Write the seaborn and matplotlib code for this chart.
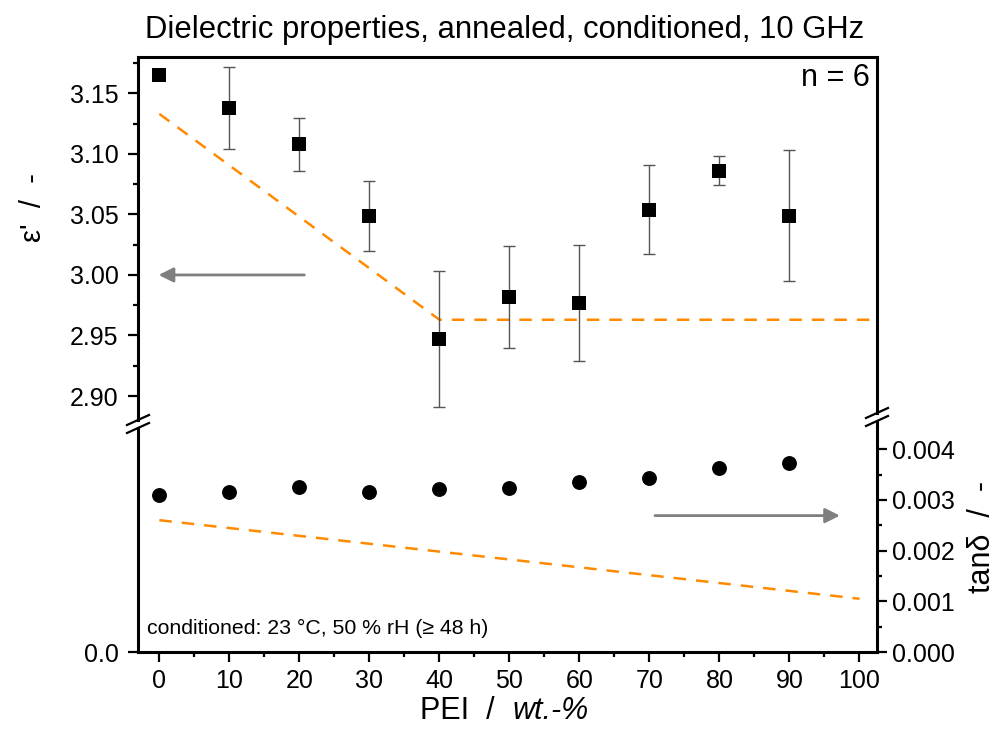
import numpy as np
import matplotlib
matplotlib.use("Agg")
import matplotlib.pyplot as plt
import seaborn as sns
import pandas as pd
from matplotlib.lines import Line2D
from matplotlib.ticker import FixedLocator, MultipleLocator

# ---------------- data ----------------
pei = [0, 10, 20, 30, 40, 50, 60, 70, 80, 90]
eps = [3.165, 3.138, 3.108, 3.049, 2.947, 2.982, 2.977, 3.054, 3.086, 3.049]
eps_err = [0.0, 0.034, 0.022, 0.029, 0.056, 0.042, 0.048, 0.037, 0.012, 0.054]
tand = [0.00310, 0.00315, 0.00326, 0.00315, 0.00321, 0.00324, 0.00336, 0.00344, 0.00363, 0.00373]
eps_mix_x = [0, 40, 101.5]
eps_mix_y = [3.133, 2.963, 2.963]
tand_mix_x = [0, 100]
tand_mix_y = [0.00260, 0.00105]
x_ticks = [0, 10, 20, 30, 40, 50, 60, 70, 80, 90, 100]
eps_ticks = [2.90, 2.95, 3.00, 3.05, 3.10, 3.15]
tand_ticks = [0.000, 0.001, 0.002, 0.003, 0.004]

df = pd.DataFrame({"pei": pei, "eps": eps, "err": eps_err, "tand": tand})

sns.set_theme(style="ticks")
plt.rcParams['font.family'] = ['Liberation Sans', 'DejaVu Sans']
plt.rcParams['text.color'] = 'black'
plt.rcParams['axes.labelcolor'] = 'black'
plt.rcParams['xtick.color'] = 'black'
plt.rcParams['ytick.color'] = 'black'
NARROW = ['Liberation Sans Narrow', 'Liberation Sans', 'DejaVu Sans']

W, H = 1003, 742
fig = plt.figure(figsize=(W / 100, H / 100), dpi=100)

def fx(px):
    return px / W

def fy(py):
    return 1 - py / H

L, R, T, B = 138, 877, 57, 652
YB_L, YB_R = 424, 417

ax_top = fig.add_axes([fx(L), fy(YB_L), fx(R - L), (YB_L - T) / H])
ax_bot = fig.add_axes([fx(L), fy(B), fx(R - L), (B - YB_L) / H])
ax_r = fig.add_axes([fx(L), fy(B), fx(R - L), (B - YB_R) / H])

xlim = (-3.05, 102.5)
for a in (ax_top, ax_bot, ax_r):
    a.set_facecolor("none")
    a.patch.set_alpha(0)
    for s in a.spines.values():
        s.set_visible(False)
    a.set_xlim(*xlim)
    a.grid(False)

orange = "#FF8A00"
gray = "#7F7F7F"

# ---- top: epsilon' ----
ax_top.set_ylim(2.8769, 3.1800)
ax_top.errorbar(df["pei"], df["eps"], yerr=df["err"], fmt="none", ecolor="#555555",
                elinewidth=1.0, capsize=4, capthick=1.0, zorder=2)
sns.scatterplot(data=df, x="pei", y="eps", ax=ax_top, marker="s", s=100, color="black",
                edgecolor="black", linewidth=0, zorder=3, legend=False)
ax_top.plot(eps_mix_x, eps_mix_y, color=orange, lw=1.8, dashes=(5, 4), zorder=1)
ax_top.annotate("", xy=(-0.5, 3.0), xytext=(21.1, 3.0),
                arrowprops=dict(arrowstyle="-|>", color=gray, lw=2, mutation_scale=22))
ax_top.set_yticks(eps_ticks)
ax_top.set_yticklabels([f"{v:.2f}" for v in eps_ticks])
ax_top.yaxis.set_minor_locator(FixedLocator([2.925, 2.975, 3.025, 3.075, 3.125, 3.175]))
ax_top.set_xticks([])
ax_top.tick_params(axis="y", which="major", direction="out", length=7, width=1.6,
                   labelsize=18, pad=7, colors="black")
ax_top.tick_params(axis="y", which="minor", direction="out", length=3.5, width=1.6)
ax_top.tick_params(axis="x", which="both", bottom=False, labelbottom=False)
ax_top.set_xlabel("")
ax_top.set_ylabel("")
ax_top.text(0.99, 0.985, "n = 6", transform=ax_top.transAxes, ha="right", va="top",
            fontsize=22)

# ---- bottom left (only 0.0) and x axis ----
ax_bot.set_ylim(0, 1)
ax_bot.set_yticks([0])
ax_bot.set_yticklabels(["0.0"])
ax_bot.set_xticks(x_ticks)
ax_bot.set_xticklabels([str(v) for v in x_ticks], family=NARROW)
ax_bot.xaxis.set_minor_locator(MultipleLocator(5))
ax_bot.tick_params(axis="both", which="major", direction="out", length=7, width=1.6,
                   labelsize=18, colors="black")
ax_bot.tick_params(axis="y", pad=7)
ax_bot.tick_params(axis="x", pad=5)
ax_bot.tick_params(axis="x", which="minor", direction="out", length=3.5, width=1.6)
ax_bot.set_xlabel("")
ax_bot.set_ylabel("")
fig.text(fx(147), fy(628), "conditioned: 23 °C, 50 % rH (≥ 48 h)",
         ha="left", va="center", fontsize=15.3)

# ---- right: tan delta ----
ax_r.set_ylim(0, 0.004635)
sns.scatterplot(data=df, x="pei", y="tand", ax=ax_r, marker="o", s=115, color="black",
                edgecolor="black", linewidth=0, zorder=3, legend=False)
ax_r.plot(tand_mix_x, tand_mix_y, color=orange, lw=1.8, dashes=(5, 4), zorder=1)
ax_r.annotate("", xy=(97.6, 0.00269), xytext=(70.4, 0.00269),
              arrowprops=dict(arrowstyle="-|>", color=gray, lw=2, mutation_scale=22))
ax_r.yaxis.tick_right()
ax_r.set_yticks(tand_ticks)
ax_r.set_yticklabels([f"{v:.3f}" for v in tand_ticks])
ax_r.yaxis.set_minor_locator(FixedLocator([0.0005, 0.0015, 0.0025, 0.0035]))
ax_r.tick_params(axis="y", which="major", direction="out", length=7, width=1.6,
                 labelsize=18, pad=4, colors="black", left=False, labelleft=False)
ax_r.tick_params(axis="y", which="minor", direction="out", length=3.5, width=1.6, left=False)
ax_r.tick_params(axis="x", which="both", bottom=False, labelbottom=False)
ax_r.set_xlabel("")
ax_r.set_ylabel("")

# ---- frame with axis breaks ----
def fline(x0, y0, x1, y1, lw=2.2):
    fig.add_artist(Line2D([fx(x0), fx(x1)], [fy(y0), fy(y1)], color="black", lw=lw,
                          solid_capstyle="projecting", transform=fig.transFigure))

fline(L, T, R, T)
fline(L, B, R, B)
fline(L, T, L, 420)
fline(L, 428, L, B)
fline(R, T, R, 413)
fline(R, 421, R, B)
for cx, cy in [(L, 420), (L, 428), (R, 413), (R, 421)]:
    fline(cx - 11, cy + 5, cx + 11, cy - 5, lw=1.6)

# ---- labels ----
fig.text(fx(505), fy(30), "Dielectric properties, annealed, conditioned, 10 GHz",
         ha="center", va="center", fontsize=22.3, family=NARROW)
fig.text(fx(33), fy(208), "ε'  /  -", rotation=90, ha="center", va="center", fontsize=21)
fig.text(fx(982), fy(537), "tanδ  /  -", rotation=90, ha="center", va="center", fontsize=22)
fig.text(fx(512), fy(711), "PEI  /  ", ha="right", va="center", fontsize=22, family=NARROW)
fig.text(fx(512), fy(711), "wt.-%", ha="left", va="center", fontsize=22, family=NARROW,
         style="italic")

fig.savefig("out.png", dpi=100)
